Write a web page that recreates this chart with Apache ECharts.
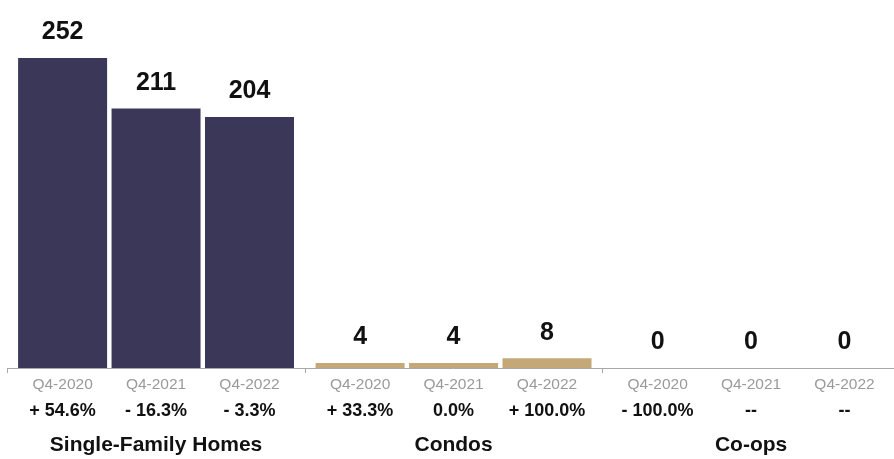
<!DOCTYPE html>
<html>
<head>
<meta charset="utf-8">
<script src="https://cdn.jsdelivr.net/npm/echarts@6/dist/echarts.min.js"></script>
<style>
  html, body { margin: 0; padding: 0; background: #ffffff; overflow: hidden; }
  /* canvas runs a few pixels past the right edge so the last group is cut off there */
  #chart { width: 900px; height: 459px; }
</style>
</head>
<body>
<div id="chart"></div>
<script>
// Property types shown as groups along the axis
const propertyTypes = ['Single-Family Homes', 'Condos', 'Co-ops'];
// One bar per quarter inside each group
const quarters = ['Q4-2020', 'Q4-2021', 'Q4-2022'];
// Sales counts per quarter, ordered like propertyTypes
const salesQ42020 = [252, 4, 0];
const salesQ42021 = [211, 4, 0];
const salesQ42022 = [204, 8, 0];
// Year-over-year change printed under each bar, ordered like propertyTypes
const changeQ42020 = ['+ 54.6%', '+ 33.3%', '- 100.0%'];
const changeQ42021 = ['- 16.3%', '0.0%', '--'];
const changeQ42022 = ['- 3.3%', '+ 100.0%', '--'];

const groupColors = ['#3b3759', '#c4a878', '#8a8a8a'];
const FONT = '"Liberation Sans", Arial, Helvetica, sans-serif';

const salesByQuarter = [salesQ42020, salesQ42021, salesQ42022];
const changeByQuarter = [changeQ42020, changeQ42021, changeQ42022];
const zeroBase = [0, 0, 0];

const series = [];
quarters.forEach((q, qi) => {
  // zero-height carrier at the base of each stack: holds the quarter and change text
  series.push({
    type: 'bar',
    stack: q,
    barWidth: 89,
    barGap: '5%',
    data: zeroBase,
    itemStyle: { color: 'transparent' },
    silent: true,
    label: {
      show: true,
      position: ['50%', '100%'],
      offset: [0, 6],
      align: 'center',
      verticalAlign: 'top',
      formatter: p => '{q|' + q + '}\n{c|' + changeByQuarter[qi][p.dataIndex] + '}',
      rich: {
        q: { fontFamily: FONT, fontSize: 15.5, color: '#9a9a9a', lineHeight: 22, align: 'center' },
        c: { fontFamily: FONT, fontSize: 18, fontWeight: 'bold', color: '#111111', lineHeight: 31, align: 'center' }
      }
    }
  });
  // the sales bars themselves
  series.push({
    type: 'bar',
    stack: q,
    barWidth: 89,
    barGap: '5%',
    data: salesByQuarter[qi].map((v, i) => ({ value: v, itemStyle: { color: groupColors[i] } })),
    label: {
      show: true,
      position: 'top',
      distance: 13,
      fontFamily: FONT,
      fontSize: 25,
      fontWeight: 'bold',
      color: '#111111'
    }
  });
});

const chart = echarts.init(document.getElementById('chart'), null, { renderer: 'canvas' });
chart.setOption({
  animation: false,
  backgroundColor: '#ffffff',
  grid: { left: 7.3, top: 58, right: 0.2, bottom: 91, containLabel: false },
  xAxis: {
    type: 'category',
    data: propertyTypes,
    axisLine: { lineStyle: { color: '#a8a8a8', width: 1 } },
    axisTick: { show: true, length: 5, lineStyle: { color: '#a8a8a8' } },
    axisLabel: {
      margin: 66,
      fontFamily: FONT,
      fontSize: 21,
      fontWeight: 'bold',
      color: '#111111',
      lineHeight: 22
    }
  },
  yAxis: {
    type: 'value',
    min: 0,
    max: 252,
    show: false,
    splitLine: { show: false }
  },
  series: series
});
</script>
</body>
</html>
